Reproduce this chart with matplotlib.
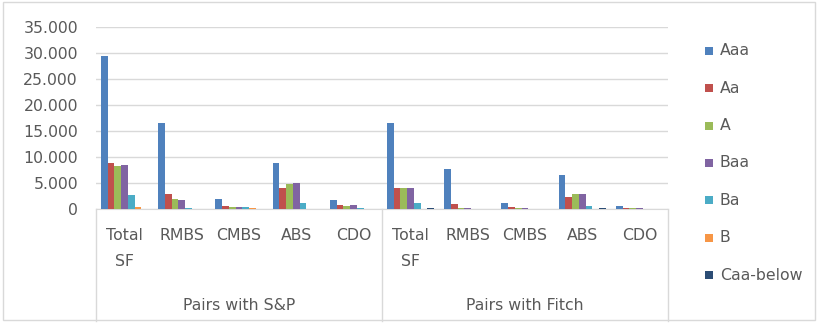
import matplotlib
matplotlib.use("Agg")
import matplotlib.pyplot as plt
from matplotlib.patches import Rectangle
from matplotlib.ticker import FuncFormatter

plt.rcParams["font.family"] = ["DejaVu Sans"]

categories = ["Total\nSF", "RMBS", "CMBS", "ABS", "CDO",
              "Total\nSF", "RMBS", "CMBS", "ABS", "CDO"]
groups = ["Pairs with S&P", "Pairs with Fitch"]
ratings = ["Aaa", "Aa", "A", "Baa", "Ba", "B", "Caa-below"]

aaa = [29450, 16500, 2070, 8850, 1750, 16500, 7700, 1190, 6480, 540]
aa = [8850, 2900, 540, 4060, 900, 4150, 1000, 350, 2330, 300]
a = [8250, 2000, 500, 4850, 540, 4150, 250, 250, 2900, 300]
baa = [8550, 1750, 500, 5000, 860, 4150, 250, 250, 2900, 200]
ba = [2650, 250, 500, 1190, 250, 1190, 150, 150, 540, 100]
b = [500, 50, 250, 0, 50, 100, 50, 50, 0, 50]
caa = [0, 0, 100, 0, 50, 250, 100, 100, 250, 50]

series = [aaa, aa, a, baa, ba, b, caa]
colors = ["#4F81BD", "#C0504D", "#9BBB59", "#8064A2", "#4BACC6", "#F79646", "#2C4D75"]
text_color = "#595959"
line_color = "#D9D9D9"
fs = 11.3

W, H = 820, 323
fig = plt.figure(figsize=(W / 100, H / 100), dpi=100)
ax = fig.add_axes([96 / W, 1 - 209.3 / H, (668 - 96) / W, (209.3 - 26.7) / H])
ax_h = 209.3 - 26.7

width = 0.118
n = len(series)
for i, (vals, col) in enumerate(zip(series, colors)):
    xs = [k + (i - (n - 1) / 2) * width for k in range(len(categories))]
    ax.bar(xs, vals, width=width, color=col, label=ratings[i], zorder=3)

ax.set_xlim(-0.5, len(categories) - 0.5)
ax.set_ylim(0, 35000)
ax.set_yticks(range(0, 35001, 5000))
ax.yaxis.set_major_formatter(FuncFormatter(lambda v, p: f"{int(v):,}".replace(",", ".")))
ax.grid(axis="y", color=line_color, linewidth=1.0, zorder=0)
ax.tick_params(axis="y", length=0, pad=13, labelsize=fs, labelcolor=text_color)
ax.set_xticks([])
for side in ["top", "right", "left"]:
    ax.spines[side].set_visible(False)
ax.spines["bottom"].set_color(line_color)


def below(px):
    # pixel row in the figure -> axes fraction below the x axis
    return (209.3 - px) / ax_h


xt = ax.get_xaxis_transform()
for k, lab in enumerate(categories):
    for j, part in enumerate(lab.split("\n")):
        ax.text(k, below(235.7 + 26 * j), part, transform=xt, ha="center", va="center",
                fontsize=fs, color=text_color)
for g, name in enumerate(groups):
    ax.text(g * 5 + 2, below(306), name, transform=xt, ha="center", va="center",
            fontsize=fs, color=text_color)
for edge in [-0.5, 4.5, 9.5]:
    ax.plot([edge, edge], [0, below(321)], transform=xt, color=line_color,
            linewidth=1.0, clip_on=False)

# legend, drawn by hand to keep Excel's wide row spacing
for i, (lab, col) in enumerate(zip(ratings, colors)):
    yc = 50.7 + 37.4 * i
    fig.patches.append(Rectangle((705 / W, 1 - (yc + 4) / H), 8 / W, 8 / H,
                                 transform=fig.transFigure, facecolor=col, edgecolor="none"))
    fig.text(720 / W, 1 - yc / H, lab, ha="left", va="center", fontsize=fs, color=text_color)

fig.patches.append(Rectangle((3 / W, 3 / H), 812 / W, 318 / H,
                             transform=fig.transFigure, fill=False,
                             edgecolor=line_color, linewidth=1.0))

fig.savefig("out.png", dpi=100)
